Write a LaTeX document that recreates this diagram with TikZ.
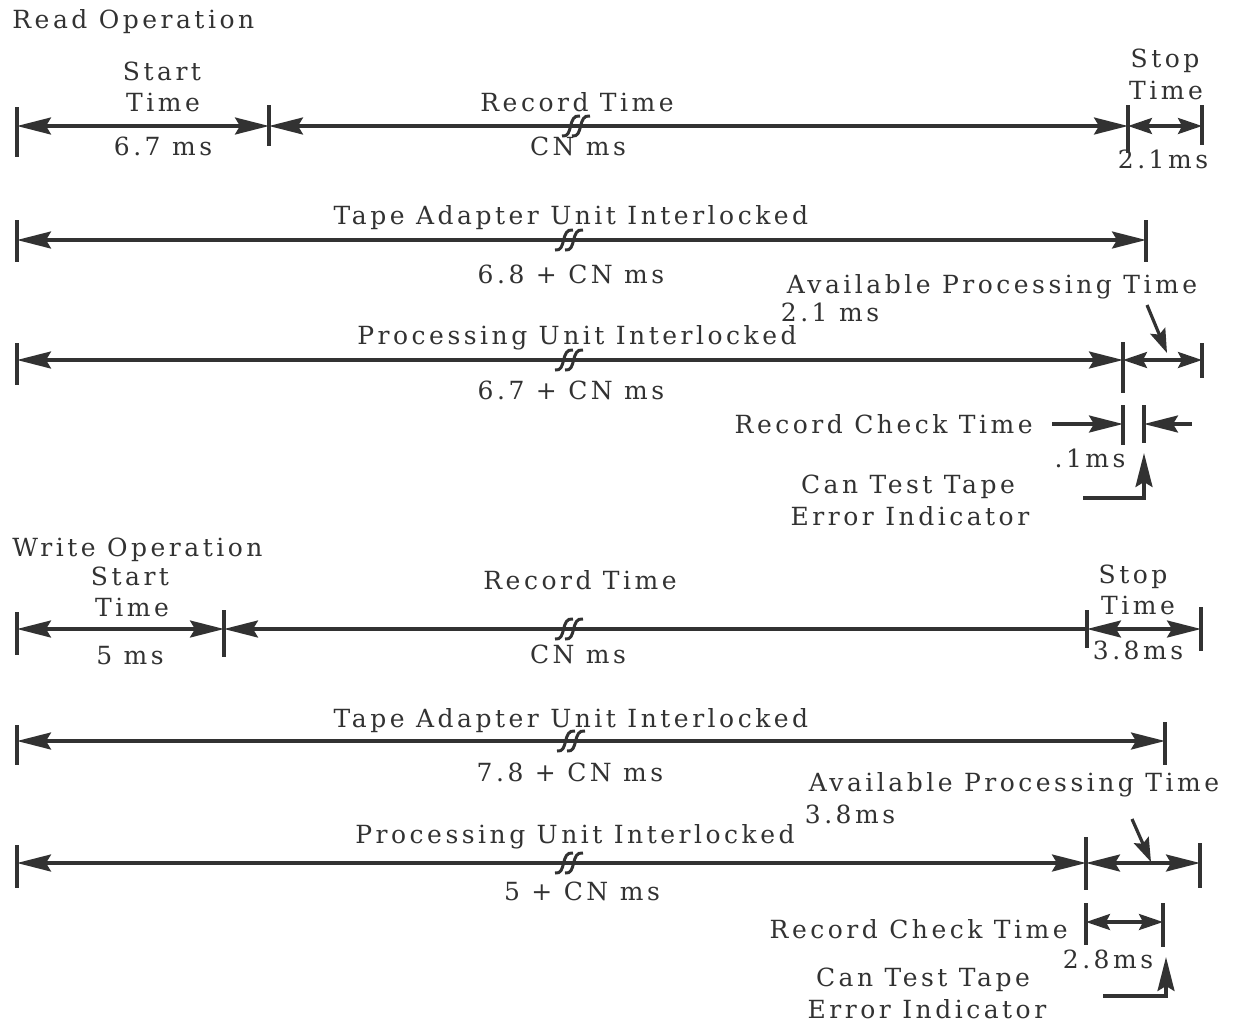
\documentclass[tikz,border=0pt]{standalone}
\usepackage{fontspec}
\setmainfont{DejaVu Serif}[LetterSpace=14]
\usetikzlibrary{arrows.meta,positioning}
\definecolor{ink}{RGB}{50,50,50}

\begin{document}
\begin{tikzpicture}
	[   x=0.5pt,y=-0.5pt,
	    lbl/.style={anchor=base,inner sep=0pt,text=ink,font=\fontsize{12.5}{14}\selectfont},
	    dimline/.style={draw=ink,line width=1.6pt,>={Stealth[length=17pt,width=8.5pt,inset=2.5pt]}},
	    shortdim/.style={dimline,>={Stealth[length=12pt,width=8pt,inset=2pt]}},
	    tick/.style={draw=ink,line width=1.6pt},
	]
	\tikzset{tapebreak/.pic={
		\draw[ink,line width=1.5pt] (-15,10) .. controls (-3,12) and (-10,-12) .. (3,-10)
		                            (-5,10) .. controls (7,12) and (0,-12) .. (13,-10);}}
	\useasboundingbox (0,0) rectangle (1244,1024);
	
	%% Read operation
	\node[lbl,anchor=base west] (rtitle) at (12,28) {Read Operation};
	
	\coordinate (ra) at (17,126);
	\coordinate (rb) at (269,126);
	\coordinate (rc) at (1128,126);
	\coordinate (rd) at (1202,126);
	\draw[tick] (ra) ++(0,-19) -- ++(0,50);
	\draw[tick] (rb) ++(0,-21) -- ++(0,41);
	\draw[tick] (rc) ++(0,-21) -- ++(0,48);
	\draw[tick] (rd) ++(0,-21) -- ++(0,40);
	\path[dimline,<->] (ra) -- (rb);
	\path[dimline,<->] (rb) -- (rc);
	\path[shortdim,<->] (rc) -- (rd);
	\pic at (577,126) {tapebreak};
	\node[lbl] (rst1) at (162,80) {Start};
	\node[lbl] (rst2) at (163,111) {Time};
	\node[lbl] (rstv) at (163,155) {6.7 ms};
	\node[lbl] (rrec) at (577,111) {Record Time};
	\node[lbl] (rrecv) at (578,155) {CN ms};
	\node[lbl] (rsp1) at (1165,67) {Stop};
	\node[lbl] (rsp2) at (1166,99) {Time};
	\node[lbl] (rspv) at (1163,168) {2.1ms};
	
	\coordinate (ta) at (17,240);
	\coordinate (tb) at (1146,240);
	\draw[tick] (ta) ++(0,-20) -- ++(0,42);
	\draw[tick] (tb) ++(0,-20) -- ++(0,42);
	\path[dimline,<->] (ta) -- (tb);
	\pic at (570,240) {tapebreak};
	\node[lbl] (rtau) at (571,224) {Tape Adapter Unit Interlocked};
	\node[lbl] (rtauv) at (571,283) {6.8 + CN ms};
	
	\node[lbl] (rapt) at (992,293) {Available Processing Time};
	\node[lbl] (raptv) at (830,321) {2.1 ms};
	
	\coordinate (pa) at (17,360);
	\coordinate (pb) at (1123,360);
	\coordinate (pc) at (1202,360);
	\draw[tick] (pa) ++(0,-17) -- ++(0,42);
	\draw[tick] (pb) ++(0,-18) -- ++(0,51);
	\draw[tick] (pc) ++(0,-17) -- ++(0,35);
	\path[dimline,<->] (pa) -- (pb);
	\path[shortdim,<->] (pb) -- (pc);
	\pic at (570,360) {tapebreak};
	\node[lbl] (rpui) at (577,344) {Processing Unit Interlocked};
	\node[lbl] (rpuiv) at (571,399) {6.7 + CN ms};
	\coordinate (rptr) at (1147,305);
	\coordinate (rptrend) at (1167,353);
	\path[shortdim,->] (rptr) -- (rptrend);
	
	\coordinate (ca) at (1123,424);
	\coordinate (cb) at (1144,424);
	\coordinate (cl) at (1052,424);
	\coordinate (cr) at (1192,424);
	\draw[tick] (ca) ++(0,-19) -- ++(0,40);
	\draw[tick] (cb) ++(0,-19) -- ++(0,38);
	\path[dimline,->] (cl) -- (ca);
	\path[dimline,->] (cr) -- (cb);
	\node[lbl,anchor=base east] (rrct) at (1033,433) {Record Check Time};
	\node[lbl] (rrctv) at (1090,467) {.1ms};
	\node[lbl] (rct1) at (908,493) {Can Test Tape};
	\node[lbl] (rct2) at (910,525) {Error Indicator};
	\coordinate (ctail) at (1083,498);
	\coordinate (chead) at (1144,453);
	\path[dimline,->] (ctail) -| (chead);
	
	%% Write operation
	\node[lbl,anchor=base west] (wtitle) at (12,556) {Write Operation};
	
	\coordinate (wa) at (17,629);
	\coordinate (wb) at (224,629);
	\coordinate (wc) at (1087,629);
	\coordinate (wd) at (1201,629);
	\draw[tick] (wa) ++(0,-17) -- ++(0,43);
	\draw[tick] (wb) ++(0,-19) -- ++(0,47);
	\draw[tick] (wc) ++(0,-19) -- ++(0,38);
	\draw[tick] (wd) ++(0,-22) -- ++(0,44);
	\path[dimline,<->] (wa) -- (wb);
	\path[dimline,<-] (wb) -- (wc);
	\path[dimline,<->] (wc) -- (wd);
	\pic at (570,629) {tapebreak};
	\node[lbl] (wst1) at (130,585) {Start};
	\node[lbl] (wst2) at (132,616) {Time};
	\node[lbl] (wstv) at (130,664) {5 ms};
	\node[lbl] (wrec) at (580,589) {Record Time};
	\node[lbl] (wrecv) at (578,663) {CN ms};
	\node[lbl] (wsp1) at (1133,583) {Stop};
	\node[lbl] (wsp2) at (1138,614) {Time};
	\node[lbl] (wspv) at (1138,659) {3.8ms};
	
	\coordinate (xa) at (17,741);
	\coordinate (xb) at (1165,741);
	\draw[tick] (xa) ++(0,-16) -- ++(0,40);
	\draw[tick] (xb) ++(0,-19) -- ++(0,43);
	\path[dimline,<->] (xa) -- (xb);
	\pic at (572,741) {tapebreak};
	\node[lbl] (wtau) at (571,727) {Tape Adapter Unit Interlocked};
	\node[lbl] (wtauv) at (570,781) {7.8 + CN ms};
	
	\node[lbl] (wapt) at (1014,791) {Available Processing Time};
	\node[lbl] (waptv) at (850,823) {3.8ms};
	
	\coordinate (ya) at (17,863);
	\coordinate (yb) at (1086,863);
	\coordinate (yc) at (1200,863);
	\draw[tick] (ya) ++(0,-18) -- ++(0,43);
	\draw[tick] (yb) ++(0,-26) -- ++(0,53);
	\draw[tick] (yc) ++(0,-20) -- ++(0,45);
	\path[dimline,<->] (ya) -- (yb);
	\path[dimline,<->] (yb) -- (yc);
	\pic at (570,863) {tapebreak};
	\node[lbl] (wpui) at (575,843) {Processing Unit Interlocked};
	\node[lbl] (wpuiv) at (582,900) {5 + CN ms};
	\coordinate (wptr) at (1132,819);
	\coordinate (wptrend) at (1151,862);
	\path[shortdim,->] (wptr) -- (wptrend);
	
	\coordinate (za) at (1086,922);
	\coordinate (zb) at (1163,922);
	\draw[tick] (za) ++(0,-19) -- ++(0,42);
	\draw[tick] (zb) ++(0,-19) -- ++(0,44);
	\path[shortdim,<->] (za) -- (zb);
	\node[lbl,anchor=base east] (wrct) at (1068,938) {Record Check Time};
	\node[lbl] (wrctv) at (1108,968) {2.8ms};
	\node[lbl] (wct1) at (923,986) {Can Test Tape};
	\node[lbl] (wct2) at (927,1018) {Error Indicator};
	\coordinate (wtail) at (1103,996);
	\coordinate (whead) at (1166,957);
	\path[dimline,->] (wtail) -| (whead);
\end{tikzpicture}
\end{document}
